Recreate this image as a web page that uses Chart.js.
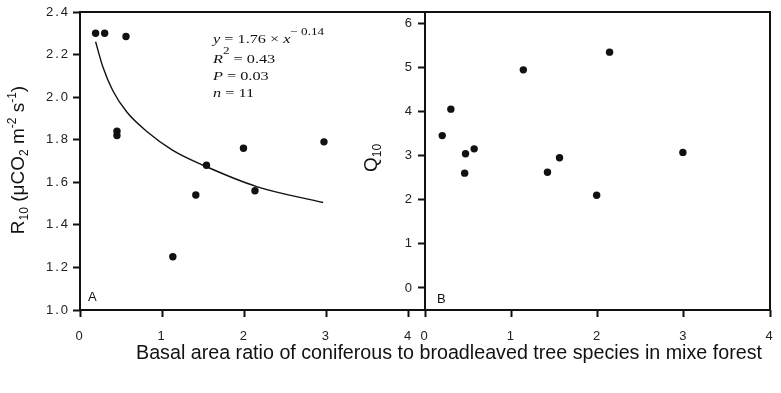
<!DOCTYPE html>
<html><head><meta charset="utf-8">
<script src="https://cdn.jsdelivr.net/npm/chart.js@4/dist/chart.umd.min.js"></script>
<style>
html,body{margin:0;padding:0;background:#fff;overflow:hidden}
#wrap{position:relative;width:781px;height:393px}
.layer{position:absolute;left:0;top:0;width:781px;height:393px}
</style></head><body>
<div id="wrap">
<div class="layer"><canvas id="cA"></canvas></div>
<div class="layer"><canvas id="cB"></canvas></div>
</div>
<script>
// ---- data ----
const ratioA = [0.19, 0.30, 0.56, 0.45, 0.45, 1.54, 1.99, 2.97, 1.41, 2.13, 1.13];
const r10    = [2.30, 2.30, 2.285, 1.84, 1.82, 1.68, 1.76, 1.79, 1.54, 1.56, 1.25];
const ratioB = [0.20, 0.30, 0.47, 0.57, 0.46, 1.14, 2.14, 1.42, 1.56, 2.99, 1.99];
const q10    = [3.45, 4.05, 3.04, 3.15, 2.60, 4.94, 5.34, 2.62, 2.95, 3.07, 2.10];
const fitX   = [0.19, 0.28, 0.40, 0.57, 0.81, 1.13, 1.50, 2.15, 2.96];
const fitY   = [2.26, 2.14, 2.03, 1.93, 1.84, 1.75, 1.68, 1.58, 1.505];
const xTicks   = [0, 1, 2, 3, 4];
const r10Ticks = [1.0, 1.2, 1.4, 1.6, 1.8, 2.0, 2.2, 2.4];
const q10Ticks = [0, 1, 2, 3, 4, 5, 6];
const xTitle = 'Basal area ratio of coniferous to broadleaved tree species in mixe forest';

const SANS = 'Arial, "Liberation Sans", sans-serif';
const SERIF = '"Times New Roman", "Liberation Serif", serif';
const INK = '#111';

function runs(ctx, parts, x, y, rot, center, sx) {
  ctx.save();
  ctx.letterSpacing = '0px';
  ctx.translate(x, y);
  ctx.rotate(rot || 0);
  if (sx) ctx.scale(sx, 1);
  ctx.textBaseline = 'alphabetic';
  ctx.textAlign = 'left';
  let total = 0;
  parts.forEach(p => { ctx.font = p.f; p.w = ctx.measureText(p.t).width; total += p.w; });
  let cx = center ? -total / 2 : 0;
  parts.forEach(p => { ctx.font = p.f; ctx.fillStyle = INK; ctx.fillText(p.t, cx, p.dy || 0); cx += p.w; });
  ctx.restore();
}

function tickScale(ticks, fmt, pad) {
  return {
    afterBuildTicks: s => { s.ticks = ticks.map(v => ({ value: v })); },
    ticks: { color: '#222', padding: pad, font: { family: SANS, size: 13 }, callback: fmt, autoSkip: false, maxRotation: 0 },
    grid: { display: true, drawOnChartArea: false, drawTicks: true, tickLength: 7, tickWidth: 2, tickColor: INK, color: INK },
    border: { display: false }
  };
}
function fixX(s) { s.height = 83; s.paddingLeft = 0; s.paddingRight = 0; }
function fixY(w) { return s => { s.width = w; s.paddingTop = 0; s.paddingBottom = 0; }; }

const spacing = {
  id: 'spacing',
  beforeDraw(chart) { chart.ctx.letterSpacing = '2px'; },
  afterDraw(chart) { chart.ctx.letterSpacing = '0px'; }
};

const frameA = {
  id: 'frameA',
  afterDraw(chart) {
    const { ctx, chartArea: a } = chart;
    ctx.save();
    ctx.strokeStyle = INK; ctx.lineWidth = 2;
    ctx.beginPath();
    ctx.moveTo(a.right, a.top); ctx.lineTo(a.left, a.top); ctx.lineTo(a.left, a.bottom); ctx.lineTo(a.right, a.bottom);
    ctx.stroke();
    ctx.restore();
    const B = '19px ' + SANS, S = '12px ' + SANS;
    runs(ctx, [
      { t: 'R', f: B }, { t: '10', f: S, dy: 4 }, { t: ' (\u03bcCO', f: B }, { t: '2', f: S, dy: 4 },
      { t: ' m', f: B }, { t: '-2', f: S, dy: -8 }, { t: ' s', f: B }, { t: '-1', f: S, dy: -8 }, { t: ')', f: B }
    ], 24, 160, -Math.PI / 2, true);
    runs(ctx, [{ t: xTitle, f: '19.7px ' + SANS }], 449, 359, 0, true);
    runs(ctx, [{ t: 'A', f: '13px ' + SANS }], 88, 301, 0, false);
    const I = 'italic 13px ' + SERIF, R = '13px ' + SERIF, SP = '10.5px ' + SERIF, K = 1.25;
    runs(ctx, [{ t: 'y', f: I }, { t: ' = 1.76 \u00d7 ', f: R }, { t: 'x', f: I }, { t: '\u2212 0.14', f: SP, dy: -8 }], 213, 43, 0, false, K);
    runs(ctx, [{ t: 'R', f: I }, { t: '2', f: SP, dy: -9 }, { t: ' = 0.43', f: R }], 213, 63, 0, false, K);
    runs(ctx, [{ t: 'P', f: I }, { t: ' = 0.03', f: R }], 213, 80, 0, false, K);
    runs(ctx, [{ t: 'n', f: I }, { t: ' = 11', f: R }], 213, 97, 0, false, K);
  }
};

const frameB = {
  id: 'frameB',
  afterDraw(chart) {
    const { ctx, chartArea: a } = chart;
    ctx.save();
    ctx.strokeStyle = INK; ctx.lineWidth = 2;
    ctx.strokeRect(a.left, a.top, a.right - a.left, a.bottom - a.top);
    ctx.restore();
    runs(ctx, [{ t: 'Q', f: '19px ' + SANS }, { t: '10', f: '12px ' + SANS, dy: 4 }], 377, 158, -Math.PI / 2, true);
    runs(ctx, [{ t: 'B', f: '13px ' + SANS }], 437, 303, 0, false);
  }
};

const pts = (xs, ys) => xs.map((x, i) => ({ x: x, y: ys[i] }));

new Chart(document.getElementById('cA'), {
  type: 'scatter',
  data: {
    datasets: [
      { data: pts(ratioA, r10), pointRadius: 3.7, pointHoverRadius: 3.7, backgroundColor: INK, borderColor: INK, borderWidth: 0 },
      { type: 'line', data: pts(fitX, fitY), borderColor: INK, borderWidth: 1.4, pointRadius: 0, fill: false, cubicInterpolationMode: 'monotone' }
    ]
  },
  options: {
    responsive: true, maintainAspectRatio: false, animation: false, events: [],
    layout: { padding: { left: 0, top: 12, right: 356, bottom: 0 } },
    plugins: { legend: { display: false }, tooltip: { enabled: false } },
    scales: {
      x: Object.assign(tickScale(xTicks, v => String(v), 12), { type: 'linear', min: 0, max: 4.2, afterFit: fixX }),
      y: Object.assign(tickScale(r10Ticks, v => Number(v).toFixed(1), 3), { type: 'linear', min: 1.0, max: 2.4, afterFit: fixY(80) })
    }
  },
  plugins: [spacing, frameA]
});
new Chart(document.getElementById('cB'), {
  type: 'scatter',
  data: {
    datasets: [
      { data: pts(ratioB, q10), pointRadius: 3.7, pointHoverRadius: 3.7, backgroundColor: INK, borderColor: INK, borderWidth: 0 }
    ]
  },
  options: {
    responsive: true, maintainAspectRatio: false, animation: false, events: [],
    layout: { padding: { left: 0, top: 12, right: 11, bottom: 0 } },
    plugins: { legend: { display: false }, tooltip: { enabled: false } },
    scales: {
      x: Object.assign(tickScale(xTicks, v => String(v), 12), { type: 'linear', min: 0, max: 4, afterFit: fixX }),
      y: Object.assign(tickScale(q10Ticks, v => String(v), 4), { type: 'linear', min: -0.5, max: 6.25, afterFit: fixY(425) })
    }
  },
  plugins: [spacing, frameB]
});
</script>
</body></html>
